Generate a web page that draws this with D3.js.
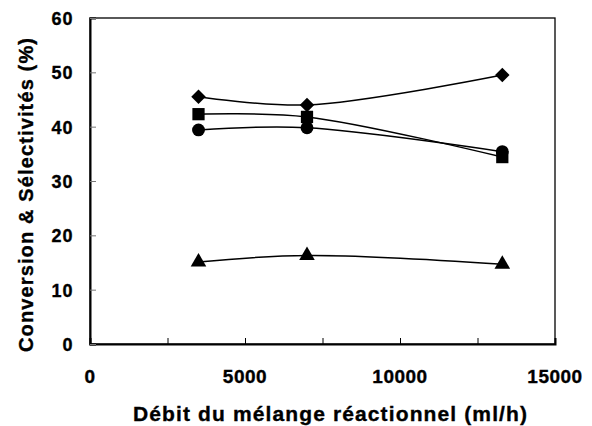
<!DOCTYPE html>
<html>
<head>
<meta charset="utf-8">
<style>
body { margin: 0; background: #fff; }
text { font-family: Arial, "Liberation Sans", sans-serif; font-weight: bold; fill: #000; stroke: #000; stroke-width: 0.35px; }
</style>
</head>
<body>
<div id="chart"></div>
<script src="https://cdn.jsdelivr.net/npm/d3@7/dist/d3.min.js"></script>
<script>
// data
var debit = [3500, 7000, 13300];
var diamondVals = [45.5, 44.0, 49.5];
var squareVals = [42.3, 41.8, 34.4];
var circleVals = [39.4, 39.8, 35.4];
var triangleVals = [15.1, 16.3, 14.7];
var xTicks = [0, 5000, 10000, 15000];
var yTicks = [0, 10, 20, 30, 40, 50, 60];

// diamond = square turned 45 degrees
var series = [
    {vals: diamondVals, sym: d3.symbolSquare, size: 105, rot: 45},
    {vals: squareVals, sym: d3.symbolSquare, size: 150, rot: 0},
    {vals: circleVals, sym: d3.symbolCircle, size: 130, rot: 0},
    {vals: triangleVals, sym: d3.symbolTriangle, size: 105, rot: 0}
];

var W = 592, H = 426;
var m = {left: 90, right: 37, top: 18, bottom: 82};

var svg = d3.select('#chart').append('svg')
    .attr('width', W).attr('height', H);

var x = d3.scaleLinear().domain([0, 15000]).range([m.left, W - m.right]);
var y = d3.scaleLinear().domain([0, 60]).range([H - m.bottom, m.top]);

// frame
svg.append('rect')
    .attr('x', x(0)).attr('y', y(60))
    .attr('width', x(15000) - x(0)).attr('height', y(0) - y(60))
    .attr('fill', 'none').attr('stroke', '#000').attr('stroke-width', 1.3);

// x axis, minor ticks inside
var xAxis = svg.append('g').attr('transform', 'translate(0,' + y(0) + ')')
    .call(d3.axisBottom(x).tickValues(d3.range(0, 15001, 2500)).tickSize(-6).tickFormat(''));
xAxis.select('.domain').attr('stroke-width', 2);
xAxis.selectAll('.tick line').attr('stroke', '#000');

svg.selectAll('.xlab').data(xTicks).enter().append('text')
    .attr('x', d => x(d)).attr('y', 383)
    .attr('text-anchor', 'middle').style('font-size', '19px')
    .style('letter-spacing', '0.5px')
    .text(d => d);

// y axis, ticks inside
var yAxis = svg.append('g').attr('transform', 'translate(' + x(0) + ',0)')
    .call(d3.axisRight(y).tickValues(yTicks).tickSize(6).tickFormat(''));
yAxis.select('.domain').attr('stroke-width', 2);
yAxis.selectAll('.tick line').attr('stroke', '#777');

svg.selectAll('.ylab').data(yTicks).enter().append('text')
    .attr('x', 73.5).attr('y', d => y(d) + 7)
    .attr('text-anchor', 'end').style('font-size', '18px')
    .style('letter-spacing', '1px')
    .text(d => d);

// titles
svg.append('text')
    .attr('x', 133).attr('y', 421)
    .attr('textLength', 394).attr('lengthAdjust', 'spacing')
    .style('font-size', '21px')
    .text('Débit du mélange réactionnel (ml/h)');

svg.append('text')
    .attr('transform', 'translate(33,352) rotate(-90)')
    .attr('textLength', 314).attr('lengthAdjust', 'spacing')
    .style('font-size', '20px')
    .text('Conversion & Sélectivités (%)');

var line = d3.line()
    .x((d, i) => x(debit[i]))
    .y(d => y(d))
    .curve(d3.curveCatmullRom.alpha(0.5));

series.forEach(function (s) {
    svg.append('path')
        .attr('d', line(s.vals))
        .attr('fill', 'none').attr('stroke', '#000').attr('stroke-width', 1.5);
    svg.selectAll(null).data(s.vals).enter().append('path')
        .attr('d', d3.symbol().type(s.sym).size(s.size))
        .attr('transform', (d, i) => 'translate(' + x(debit[i]) + ',' + y(d) + ') rotate(' + s.rot + ')')
        .attr('fill', '#000');
});
</script>
</body>
</html>
